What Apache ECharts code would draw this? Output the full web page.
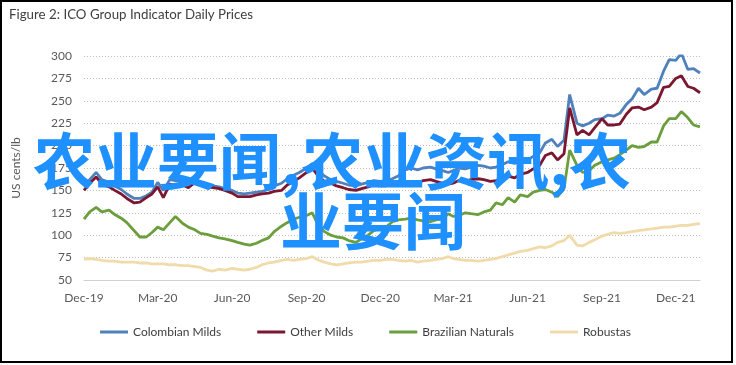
<!DOCTYPE html>
<html><head><meta charset="utf-8">
<script src="https://cdn.jsdelivr.net/npm/echarts@6/dist/echarts.min.js"></script>
<style>html,body{margin:0;padding:0;background:#fff}#c{width:736px;height:365px}</style>
</head><body><div id="c"></div>
<script>
const months = ['2019-12','2020-01','2020-02','2020-03','2020-04','2020-05','2020-06','2020-07','2020-08','2020-09','2020-10','2020-11','2020-12','2021-01','2021-02','2021-03','2021-04','2021-05','2021-06','2021-07','2021-08','2021-09','2021-10','2021-11','2021-12'];
const weekDays = ['01','08','16','23'];
const firstDate = '2019-12-01';
const lastDate = '2021-12-31';

const tickDates = ['2019-12-01','2020-03-01','2020-06-01','2020-09-01','2020-12-01','2021-03-01','2021-06-01','2021-09-01','2021-12-01'];
const tickLabels = ['Dec-19','Mar-20','Jun-20','Sep-20','Dec-20','Mar-21','Jun-21','Sep-21','Dec-21'];

const seriesNames = ['Colombian Milds','Other Milds','Brazilian Naturals','Robustas'];

const colombianMilds = [
155,162,170,162, 159,155,151,146, 141,141,144,148, 159,150,162,161,
160,158,163,158, 157,155,154,152, 150,147,146,147, 148,149,151,155,
158,163,167,170, 175,180,172,166, 162,160,158,156, 155,157,159,161,
160,161,163,166, 173,175,173,175, 176,174,172,170, 172,175,174,176,
178,177,175,176, 179,182,180,182, 184,188,192,203, 207,199,206,257,
225,222,225,229, 230,234,233,236, 246,252,264,257, 263,264,283,296,
295,303,285,286, 281];

const otherMilds = [
150,158,165,157, 154,150,146,141, 136,137,142,146, 154,142,157,154,
156,153,159,156, 154,153,152,150, 147,143,143,143, 145,146,147,149,
150,156,160,164, 170,175,165,160, 158,155,153,151, 150,152,154,156,
155,155,158,160, 160,160,158,161, 162,160,158,157, 158,161,160,162,
163,162,160,161, 163,166,164,168, 170,174,178,189, 192,184,191,242,
212,217,212,220, 230,223,223,224, 235,242,243,240, 243,248,265,266,
275,278,266,264, 259];

const brazilianNaturals = [
118,126,131,126, 128,123,119,114, 105,98,98,103, 109,106,114,121,
113,109,106,102, 101,99,97,96, 94,92,90,89, 91,94,97,104,
110,114,118,120, 122,125,110,104, 100,98,97,94, 92,96,100,105,
108,109,115,117, 118,119,117,116, 115,117,118,124, 121,122,125,124,
123,126,128,136, 134,142,137,145, 143,148,150,151, 148,143,152,195,
178,170,172,178, 182,184,186,190, 195,200,198,199, 204,204,222,230,
230,238,231,223, 221];

const robustas = [
73,74,73,72, 71,71,70,70, 70,69,69,68, 68,68,67,67,
66,66,65,64, 61,60,62,61, 63,62,61,62, 64,67,69,70,
72,73,72,73, 74,76,72,70, 68,67,68,69, 70,70,71,72,
72,73,73,72, 71,72,70,71, 72,73,74,76, 74,73,72,72,
71,72,73,74, 76,78,80,82, 83,85,87,86, 88,92,94,100,
89,88,92,95, 99,101,103,102, 103,104,105,106, 107,108,109,109,
110,111,111,112, 113];

const colors = ['#4F81BD','#7B1730','#6B9E3C','#F0DBAA'];
const overlayLine1 = '农业要闻,农业资讯,农';
const overlayLine2 = '业要闻';

function toTime(s){const p=s.split('-').map(Number);return Date.UTC(p[0],p[1]-1,p[2]);}
function dayIndex(s){return Math.round((toTime(s)-toTime(firstDate))/86400000);}
const dates = [];
months.forEach(m => weekDays.forEach(d => dates.push(m + '-' + d)));
dates.push(lastDate);
const xs = dates.map(dayIndex);
const tickXs = tickDates.map(dayIndex);

const valueSets = [colombianMilds, otherMilds, brazilianNaturals, robustas];
const FONT = 'Lato';

const chart = echarts.init(document.getElementById('c'));
chart.setOption({
  animation: false,
  backgroundColor: '#ffffff',
  title: {
    text: 'Figure 2: ICO Group Indicator Daily Prices',
    left: 9, top: 8, padding: 0,
    textStyle: {fontFamily: FONT, fontSize: 13.3, fontWeight: 'normal', color: '#404040'}
  },
  grid: {left: 84, right: 36, top: 56, bottom: 85, containLabel: false},
  legend: {
    left: 95, top: 321, itemGap: 36, itemWidth: 28, itemHeight: 3, icon: 'rect',
    textStyle: {fontFamily: FONT, fontSize: 12, color: '#404040'},
    data: seriesNames
  },
  xAxis: {
    type: 'value',
    min: 0, max: dayIndex(lastDate),
    axisLine: {show: true, onZero: false, lineStyle: {color: '#d0d0d0', width: 1}},
    axisTick: {show: false},
    splitLine: {show: false},
    axisLabel: {
      customValues: tickXs,
      margin: 12,
      fontFamily: FONT, fontSize: 12, color: '#595959',
      formatter: function (v) {
        const i = tickXs.indexOf(v);
        return i >= 0 ? tickLabels[i] : '';
      }
    }
  },
  yAxis: {
    type: 'value', min: 50, max: 300, interval: 25,
    name: 'US cents/lb', nameLocation: 'middle', nameGap: 62, nameRotate: 90,
    nameTextStyle: {fontFamily: FONT, fontSize: 12, color: '#595959'},
    axisLine: {show: false}, axisTick: {show: false},
    axisLabel: {margin: 12, fontFamily: FONT, fontSize: 12, color: '#595959'},
    splitLine: {show: true, lineStyle: {color: '#bfbfbf', width: 1, type: [1, 2]}}
  },
  series: seriesNames.map((n, k) => ({
    name: n, type: 'line', showSymbol: false, symbol: 'none',
    color: colors[k],
    lineStyle: {width: 2.8, color: colors[k]},
    data: xs.map((x, i) => [x, valueSets[k][i]])
  })),
  graphic: [
    {type: 'rect', z: 200, shape: {x: 1, y: 1, width: 731, height: 361},
     style: {fill: 'none', stroke: '#000', lineWidth: 2}},
    {type: 'text', z: 150, x: 33, y: 161,
     style: {text: overlayLine1, fill: '#1E90FF', fontSize: 62, fontWeight: 'bold',
             fontFamily: 'Noto Sans CJK SC', align: 'left', verticalAlign: 'middle'}},
    {type: 'text', z: 150, x: 280, y: 221,
     style: {text: overlayLine2, fill: '#1E90FF', fontSize: 62, fontWeight: 'bold',
             fontFamily: 'Noto Sans CJK SC', align: 'left', verticalAlign: 'middle'}}
  ]
});
</script></body></html>
